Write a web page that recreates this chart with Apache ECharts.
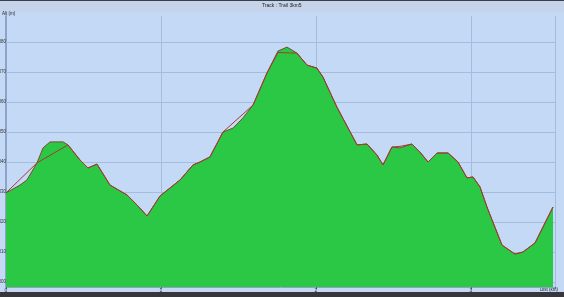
<!DOCTYPE html>
<html><head><meta charset="utf-8">
<script src="https://cdn.jsdelivr.net/npm/echarts@6/dist/echarts.min.js"></script>
<style>html,body{margin:0;padding:0;background:#c3d9f6;}#c{width:564px;height:297px;}</style>
</head><body><div id="c"></div>
<script>
// Elevation profile (distance km, altitude m)
const distKm = [0, 0.090, 0.135, 0.200, 0.239, 0.284, 0.368, 0.400, 0.477, 0.529, 0.587, 0.671, 0.781, 0.845, 0.910, 0.994, 1.123, 1.206, 1.252, 1.316, 1.400, 1.465, 1.529, 1.594, 1.684, 1.755, 1.813, 1.877, 1.942, 2.006, 2.045, 2.135, 2.265, 2.329, 2.394, 2.432, 2.490, 2.542, 2.619, 2.671, 2.723, 2.781, 2.852, 2.916, 2.974, 3.013, 3.058, 3.103, 3.200, 3.284, 3.335, 3.413, 3.529];
const altM = [329.7, 332.3, 334.0, 339.7, 344.7, 346.7, 346.7, 345.7, 340.7, 338.0, 339.3, 332.3, 329.0, 325.7, 322.0, 328.7, 334.0, 339.0, 340.0, 341.7, 350.0, 351.3, 354.7, 359.0, 369.7, 377.0, 378.3, 376.3, 372.3, 371.3, 368.3, 358.3, 345.7, 346.0, 342.3, 339.0, 345.0, 344.7, 346.0, 343.3, 340.0, 343.0, 343.0, 340.0, 334.7, 335.0, 331.7, 325.0, 312.3, 309.3, 310.0, 313.0, 325.0];
// GPS track altitude (red line)
const trackDist = [0, 0.200, 0.400, 0.477, 0.529, 0.587, 0.671, 0.781, 0.845, 0.910, 0.994, 1.123, 1.206, 1.252, 1.316, 1.400, 1.594, 1.684, 1.755, 1.877, 1.942, 2.006, 2.045, 2.135, 2.265, 2.329, 2.394, 2.432, 2.490, 2.542, 2.619, 2.671, 2.723, 2.781, 2.852, 2.916, 2.974, 3.013, 3.058, 3.103, 3.200, 3.284, 3.335, 3.413, 3.529];
const trackAlt = [329.7, 339.7, 345.7, 340.7, 338.0, 339.3, 332.3, 329.0, 325.7, 322.0, 328.7, 334.0, 339.0, 340.0, 341.7, 350.0, 359.0, 369.7, 376.5, 376.3, 372.3, 371.3, 368.3, 358.3, 345.7, 346.0, 342.3, 339.0, 345.0, 345.2, 346.0, 343.3, 340.0, 343.0, 343.0, 340.0, 334.7, 335.0, 331.7, 325.0, 312.3, 309.3, 310.0, 313.0, 325.0];
const yTicks = [300, 310, 320, 330, 340, 350, 360, 370, 380];
const xTicks = ['0', '1', '2', '3'];
const titleText = 'Track : Trail 3km5';
const xName = 'Dist (km)';
const yName = 'Alt (m)';

const chart = echarts.init(document.getElementById('c'), null, {renderer: 'canvas'});
const elev = distKm.map((d, i) => [d, altM[i]]);
const track = trackDist.map((d, i) => [d, trackAlt[i]]);
const gridColor = '#a6bcdf';
chart.setOption({
  backgroundColor: '#c3d9f6',
  animation: false,
  grid: {left: 6, right: 9, top: 16, bottom: 10, containLabel: false},
  xAxis: {
    type: 'value', min: 0, max: 3.542, interval: 1,
    axisLine: {show: true, lineStyle: {color: '#8ea3c6', width: 1}},
    axisTick: {show: true, length: 2, lineStyle: {color: '#667'}},
    axisLabel: {fontSize: 5, color: '#333', margin: 1, fontFamily: 'Liberation Sans',
      formatter: v => xTicks[Math.round(v)] !== undefined ? xTicks[Math.round(v)] : ''},
    splitLine: {show: true, lineStyle: {color: gridColor, width: 1}}
  },
  yAxis: {
    type: 'value', min: 298.333, max: 388.667,
    axisLine: {show: true, lineStyle: {color: '#8ea3c6', width: 2}},
    axisTick: {show: false}, axisLabel: {show: false}, splitLine: {show: false}
  },
  graphic: [
    {type: 'rect', shape: {x: 0, y: 0, width: 564, height: 12}, style: {fill: '#c5d4ea'}, z: -1},
    {type: 'rect', shape: {x: 0, y: 0, width: 564, height: 1}, style: {fill: '#3a3f48'}},
    {type: 'rect', shape: {x: 0, y: 292, width: 564, height: 5}, style: {fill: '#35373c'}},
    {type: 'text', left: 262, top: 3, style: {text: titleText, fontSize: 5, fill: '#222', fontFamily: 'Liberation Sans'}},
    {type: 'text', left: 2, top: 11, style: {text: yName, fontSize: 4.5, fill: '#222', fontFamily: 'Liberation Sans'}},
    {type: 'text', left: 540, top: 287, style: {text: xName, fontSize: 4.5, fill: '#222', fontFamily: 'Liberation Sans'}}
  ],
  series: [
    {
      type: 'line', data: elev, symbol: 'none', z: 2,
      lineStyle: {color: '#7a4a2e', width: 1},
      areaStyle: {color: '#2bc845', opacity: 1},
      markLine: {
        silent: true, symbol: 'none', z: 1,
        lineStyle: {color: gridColor, type: 'solid', width: 1},
        label: {position: 'start', fontSize: 4.5, color: '#333', distance: 0, fontFamily: 'Liberation Sans',
          formatter: p => String(p.value)},
        data: yTicks.map(v => ({yAxis: v}))
      }
    },
    {
      type: 'line', data: track, symbol: 'none', z: 3,
      lineStyle: {color: '#a63a32', width: 1}
    }
  ]
});
</script></body></html>
